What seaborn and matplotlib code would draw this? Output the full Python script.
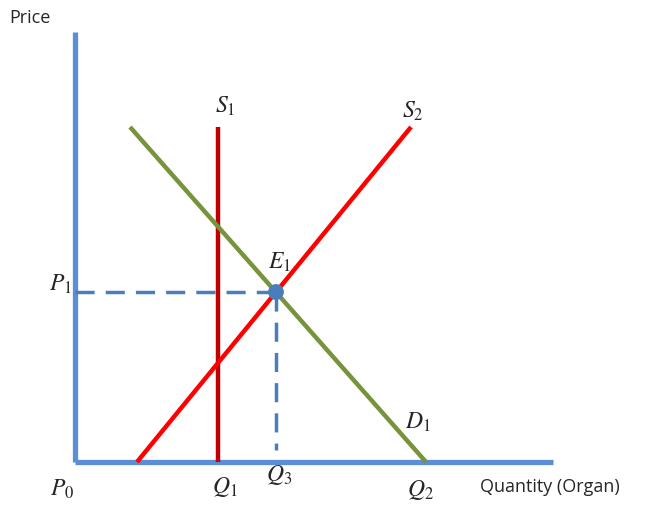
import matplotlib
matplotlib.use("Agg")
import matplotlib.pyplot as plt
import seaborn as sns
import pandas as pd

# ---- diagram data (price/quantity units, origin at P0) ----
axis_x = [0, 478]          # quantity axis extent
axis_y = [0, 430]          # price axis extent

s1_x = [143, 143]          # vertical supply S1
s1_y = [0, 335]
s2_x = [62, 336]           # supply S2
s2_y = [0, 335]
d1_x = [55, 351]           # demand D1
d1_y = [335, 0]

eq_q = 201                 # E1 quantity (Q3)
eq_p = 170                 # E1 price (P1)
dash_bottom = 12

labels = {
    "S1": (150, 355, r"$S_1$"),
    "S2": (338, 350, r"$S_2$"),
    "E1": (205, 199, r"$E_1$"),
    "D1": (343, 39, r"$D_1$"),
    "P1": (-15, 177, r"$P_1$"),
    "P0": (-13, -28, r"$P_0$"),
    "Q1": (150, -25, r"$Q_1$"),
    "Q3": (204, -13, r"$Q_3$"),
    "Q2": (345, -28, r"$Q_2$"),
}

sns.set_style("white")
plt.rcParams["font.family"] = ["Open Sans", "DejaVu Sans"]
plt.rcParams["mathtext.fontset"] = "stix"

fig = plt.figure(figsize=(6.53, 5.09), dpi=100)
ax = fig.add_axes([0, 0, 1, 1])

axis_blue = "#5B8ED4"
dash_blue = "#4A7EBB"

def seg(xs, ys, color, lw, **kw):
    df = pd.DataFrame({"x": xs, "y": ys})
    sns.lineplot(data=df, x="x", y="y", sort=False, estimator=None,
                 color=color, linewidth=lw, ax=ax,
                 solid_capstyle="butt", **kw)

# axes of the diagram
seg([0, 0], axis_y, axis_blue, 3.8)
seg(axis_x, [0, 0], axis_blue, 3.8)

# dashed guides
ax.plot([0, eq_q], [eq_p, eq_p], color=dash_blue, lw=2.5,
        linestyle=(0, (5.5, 3.2)))
ax.plot([eq_q, eq_q], [eq_p, dash_bottom], color=dash_blue, lw=2.5,
        linestyle=(0, (5.5, 3.2)))

# curves
seg(s1_x, s1_y, "#C00000", 3.2)
seg(d1_x, d1_y, "#77933C", 3.2)
seg(s2_x, s2_y, "#FF0000", 3.2)

# equilibrium point
sns.scatterplot(x=[eq_q], y=[eq_p], s=130, color="#4A7EBB",
                edgecolor="none", ax=ax, zorder=5)

for key, (x, y, txt) in labels.items():
    ax.text(x, y, txt, fontsize=17, ha="center", va="center")

ax.text(-66, 444, "Price", fontsize=13, ha="left", va="center")
ax.text(405, -25, "Quantity (Organ)", fontsize=13, ha="left", va="center")

ax.set_xlim(-75, 578)
ax.set_ylim(-47, 462)
ax.set_axis_off()

plt.savefig("out.png", dpi=100)
